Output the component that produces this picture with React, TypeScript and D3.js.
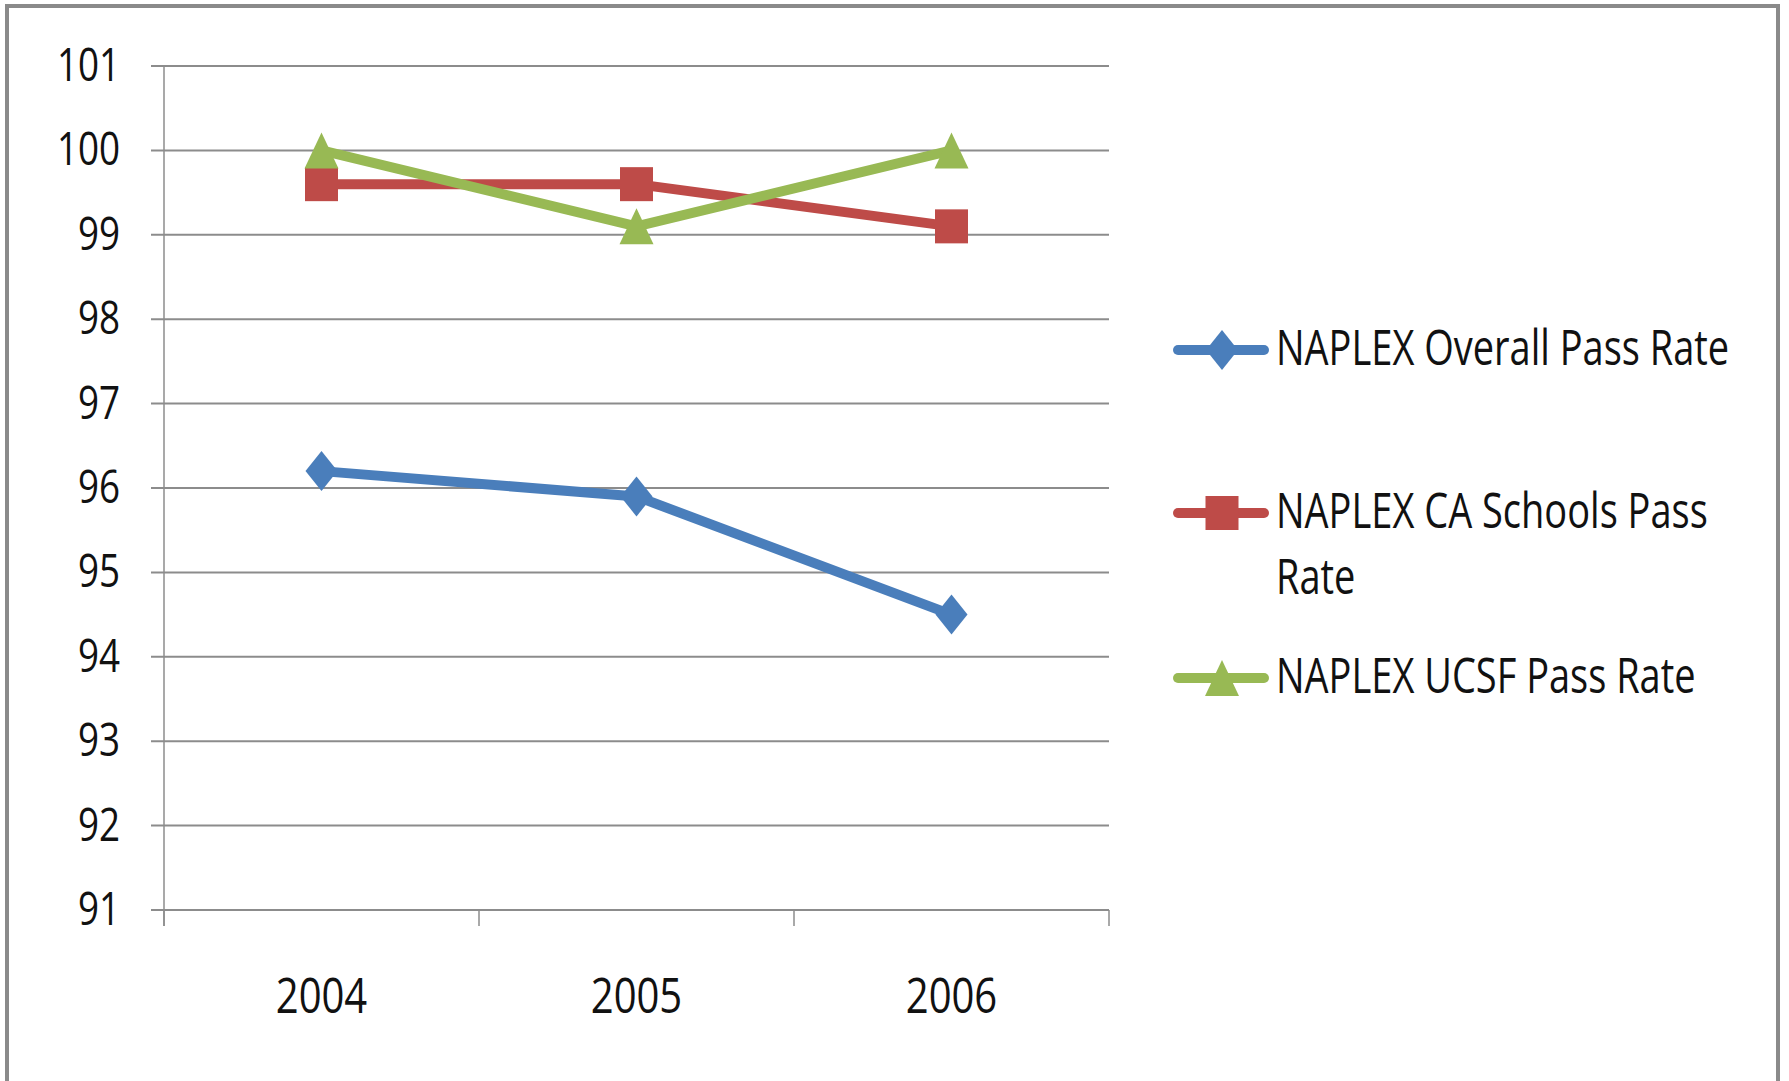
import React from "react";
import * as d3 from "d3";

const years = ["2004", "2005", "2006"];
const overall = [96.2, 95.9, 94.5];
const caSchools = [99.6, 99.6, 99.1];
const ucsf = [100, 99.1, 100];
const yTicks = [91, 92, 93, 94, 95, 96, 97, 98, 99, 100, 101];
const seriesNames = [
  ["NAPLEX Overall Pass Rate"],
  ["NAPLEX CA Schools Pass", "Rate"],
  ["NAPLEX UCSF Pass Rate"],
];
const seriesColors = ["#4A7EBB", "#BE4B48", "#98B954"];
const seriesShapes = ["diamond", "square", "triangle"];

const W = 1789;
const H = 1081;
const FONT = "'Open Sans', 'Noto Sans', sans-serif";

function Marker({ shape, x, y, color }: { shape: string; x: number; y: number; color: string }) {
  if (shape === "diamond") {
    const hw = 16, hh = 20;
    return <path d={`M${x},${y - hh}L${x + hw},${y}L${x},${y + hh}L${x - hw},${y}Z`} fill={color} />;
  }
  if (shape === "square") {
    return <rect x={x - 16.5} y={y - 17} width={33} height={34} fill={color} />;
  }
  const hw = 17, hh = 18;
  return <path d={`M${x},${y - hh}L${x + hw},${y + hh}L${x - hw},${y + hh}Z`} fill={color} />;
}

function Label({ x, y, size, sx, anchor, children }: { x: number; y: number; size: number; sx: number; anchor?: string; children: React.ReactNode }) {
  return (
    <text
      transform={`translate(${x},${y}) scale(${sx},1)`}
      x={0}
      y={0}
      fontSize={size}
      textAnchor={anchor || "start"}
      fill="#111"
    >
      {children}
    </text>
  );
}

export default function App() {
  const x = d3.scaleBand<string>().domain(years).range([164, 1109]);
  const y = d3.scaleLinear().domain([91, 101]).range([910, 66]);
  const data = [overall, caSchools, ucsf];
  const cx = (i: number) => (x(years[i]) as number) + x.bandwidth() / 2;
  const line = d3
    .line<number>()
    .x((_, i) => cx(i))
    .y((d) => y(d));

  const tickXs = [...years.map((yr) => x(yr) as number), 1109];
  const legendYs = [350, 513, 678];

  return (
    <svg
      width={W}
      height={H}
      style={{ position: "absolute", left: 0, top: 0, background: "#fff" }}
      fontFamily={FONT}
    >
      <rect x={0} y={0} width={W} height={H} fill="#fff" />
      {/* outer border */}
      <rect x={7} y={6} width={1771} height={H + 20} fill="none" stroke="#8a8a8a" strokeWidth={4} />

      {/* gridlines */}
      {yTicks.map((t) => (
        <line key={t} x1={151} x2={1109} y1={y(t)} y2={y(t)} stroke="#8c8c8c" strokeWidth={2} />
      ))}
      {/* y axis */}
      <line x1={164} x2={164} y1={66} y2={926} stroke="#8c8c8c" strokeWidth={1.5} />
      {/* x ticks */}
      {tickXs.map((tx, i) => (
        <line key={i} x1={tx} x2={tx} y1={910} y2={926} stroke="#8c8c8c" strokeWidth={1.5} />
      ))}

      {/* y tick labels */}
      {yTicks.map((t) => (
        <Label key={t} x={120} y={y(t) + 15} size={46} sx={0.8} anchor="end">
          {t}
        </Label>
      ))}
      {/* x labels */}
      {years.map((yr, i) => (
        <Label key={yr} x={cx(i)} y={1013} size={50} sx={0.8} anchor="middle">
          {yr}
        </Label>
      ))}

      {/* series */}
      {data.map((vals, si) => (
        <g key={si}>
          <path d={line(vals) as string} fill="none" stroke={seriesColors[si]} strokeWidth={10} strokeLinejoin="round" />
          {vals.map((v, i) => (
            <Marker key={i} shape={seriesShapes[si]} x={cx(i)} y={y(v)} color={seriesColors[si]} />
          ))}
        </g>
      ))}

      {/* legend */}
      {seriesNames.map((lines, si) => (
        <g key={si}>
          <line x1={1178} x2={1264} y1={legendYs[si]} y2={legendYs[si]} stroke={seriesColors[si]} strokeWidth={10} strokeLinecap="round" />
          <Marker shape={seriesShapes[si]} x={1222} y={legendYs[si]} color={seriesColors[si]} />
          {lines.map((ln, li) => (
            <Label key={li} x={1276} y={legendYs[si] + 15 + li * 66} size={50} sx={0.76}>
              {ln}
            </Label>
          ))}
        </g>
      ))}
    </svg>
  );
}
